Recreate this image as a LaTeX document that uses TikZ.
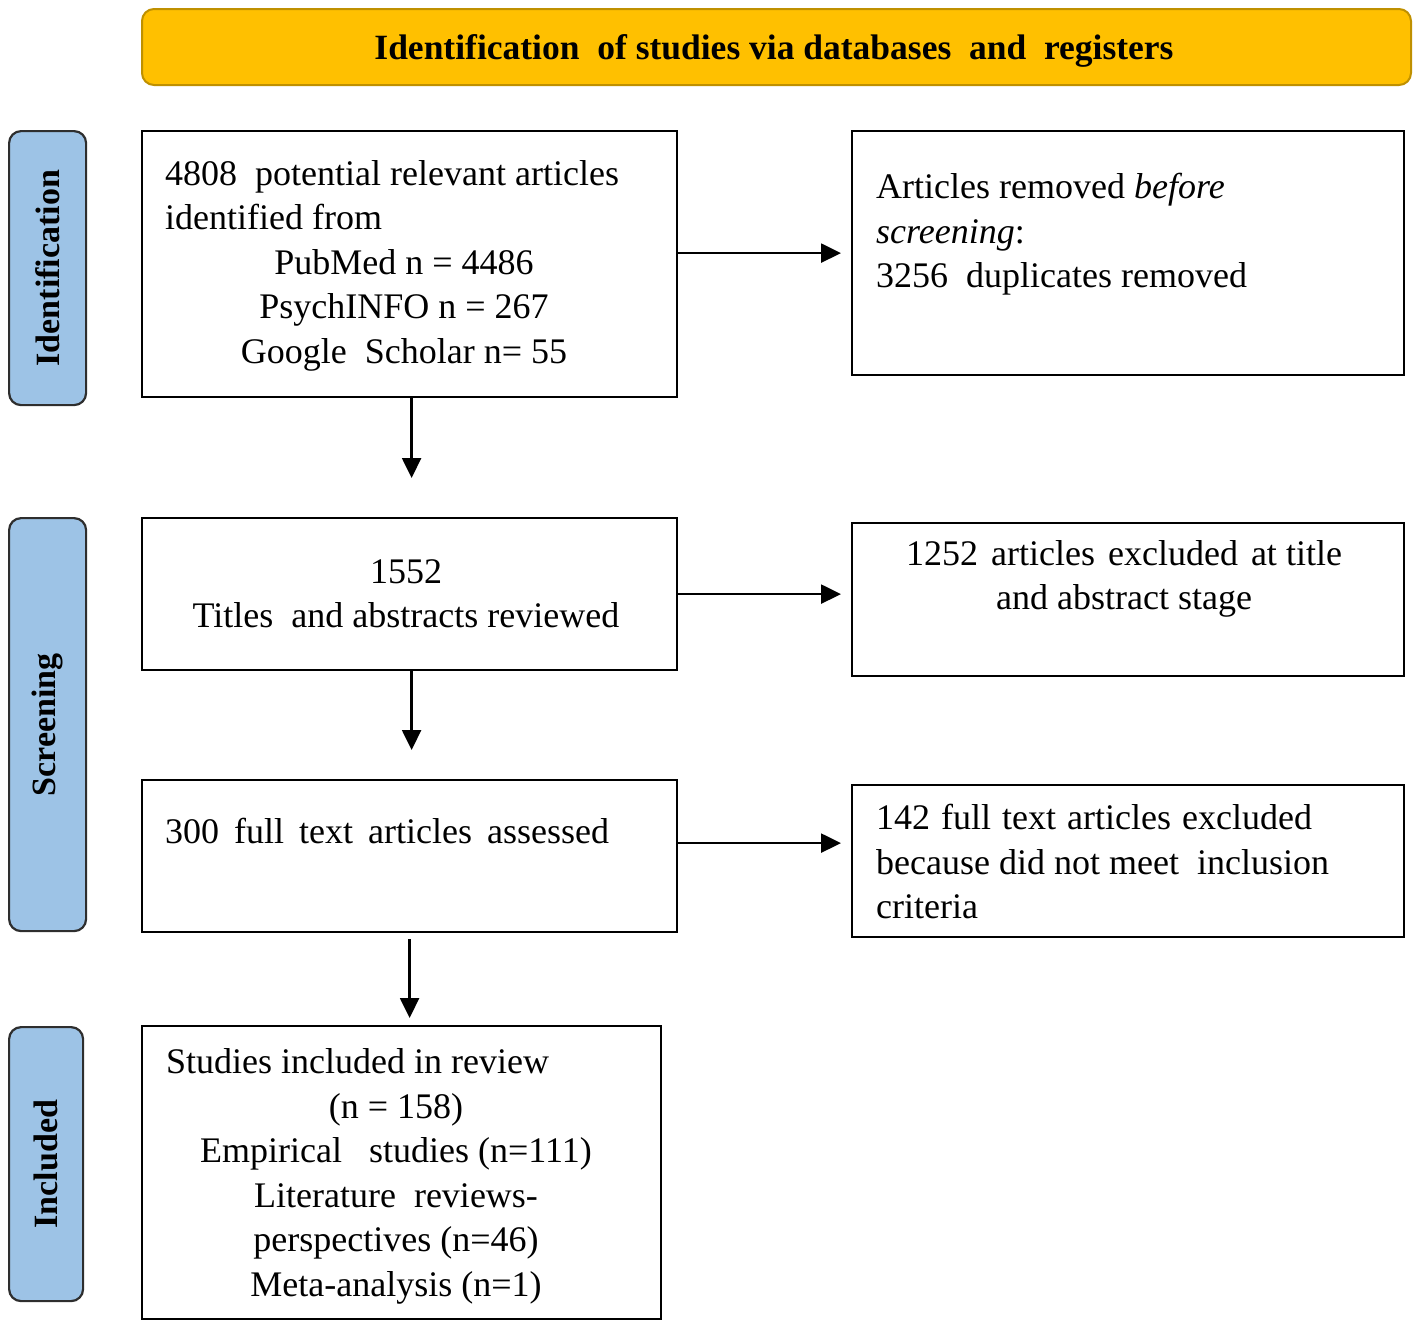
\documentclass[tikz,border=0pt]{standalone}
\usepackage{fontspec}
\setmainfont{Liberation Serif}
\usetikzlibrary{arrows.meta}
\definecolor{hdrfill}{HTML}{FFC000}
\definecolor{hdrline}{HTML}{BF9000}
\definecolor{sidefill}{HTML}{9DC3E6}
\definecolor{sideline}{HTML}{2E2E2E}
\newcommand\wsp[1]{\hspace{#1pt}}
\tikzset{
  box/.style={draw=black, line width=2.2pt, fill=white, inner sep=0pt, anchor=north west},
  side/.style={draw=sideline, fill=sidefill, rounded corners=12pt, line width=2.2pt, inner sep=0pt, anchor=north west},
  sidetxt/.style={inner sep=0pt, rotate=90, font=\fontsize{34}{40}\selectfont\bfseries},
  txt/.style={inner sep=0pt, font=\fontsize{36}{44.5}\selectfont},
  arr/.style={line width=2.5pt, -{Triangle[length=20pt,width=19pt]}}
}
\begin{document}
\begin{tikzpicture}[x=1pt,y=-1pt]
\useasboundingbox (0,0) rectangle (1418,1325);
% header
\node[draw=hdrline, fill=hdrfill, rounded corners=12pt, line width=2pt, inner sep=0pt,
      minimum width=1269pt, minimum height=76pt, anchor=north west] (hdr) at (141,8) {};
\node[inner sep=0pt, anchor=base, font=\fontsize{35.5}{40}\selectfont\bfseries] (hdrt) at (774,59)
  {Identification\ \ of studies via databases\ \ and\ \ registers};
% side labels
\node[side, minimum width=77pt, minimum height=274pt] (s1) at (8,130) {};
\node[sidetxt] (s1t) at (s1.center) {Identification};
\node[side, minimum width=77pt, minimum height=413pt] (s2) at (8,517) {};
\node[sidetxt] (s2t) at (s2.center) {Screening};
\node[side, minimum width=74pt, minimum height=274pt] (s3) at (8,1026) {};
\node[sidetxt] (s3t) at (s3.center) {Included};
% boxes
\node[box, minimum width=535pt, minimum height=266pt] (b1) at (141,130) {};
\node[box, minimum width=552pt, minimum height=244pt] (b2) at (851,130) {};
\node[box, minimum width=535pt, minimum height=152pt] (b3) at (141,517) {};
\node[box, minimum width=552pt, minimum height=153pt] (b4) at (851,522) {};
\node[box, minimum width=535pt, minimum height=152pt] (b5) at (141,779) {};
\node[box, minimum width=552pt, minimum height=152pt] (b6) at (851,784) {};
\node[box, minimum width=519pt, minimum height=293pt] (b7) at (141,1025) {};
% texts
\node[txt, anchor=north west, align=left] (t1a) at (165,160)
  {4808\ \ potential relevant articles\\identified from};
\node[txt, anchor=north, align=center] (t1b) at (404,249)
  {PubMed n = 4486\\PsychINFO n = 267\\Google\ \ Scholar n= 55};
\node[txt, anchor=north west, align=left] (t2) at (876,173)
  {Articles removed \textit{before}\\\textit{screening}:\\3256\ \ duplicates removed};
\node[txt, anchor=north, align=center] (t3) at (406,559)
  {1552\\Titles\ \ and abstracts reviewed};
\node[txt, anchor=north, align=center] (t4) at (1124,540)
  {1252\wsp{13}articles\wsp{13}excluded\wsp{13}at title\\and abstract stage};
\node[txt, anchor=north west, align=left] (t5) at (165,818)
  {300\wsp{15}full\wsp{15}text\wsp{15}articles\wsp{15}assessed};
\node[txt, anchor=north west, align=left] (t6) at (876,804)
  {142\wsp{11}full\wsp{11}text\wsp{11}articles\wsp{11}excluded\\because did not meet\ \ inclusion\\criteria};
\node[txt, anchor=north west, align=left] (t7a) at (166,1048)
  {Studies included in review};
\node[txt, anchor=north, align=center] (t7b) at (396,1093)
  {(n = 158)\\Empirical\ \ \ studies (n=111)\\Literature\ \ reviews-\\perspectives (n=46)\\Meta-analysis (n=1)};
% connectors
\draw[arr, shorten >=10pt] (b1.east |- b2.west) -- (b2.west);
\draw[arr, shorten >=10pt] (b3.east) -- (b4.west |- b3.east);
\draw[arr, shorten >=10pt] ([yshift=13pt]b5.east) -- ([yshift=13pt]b5.east -| b6.west);
\draw[arr, shorten >=39pt] ([xshift=2pt]b1.south) -- ([xshift=2pt]b1.south |- b3.north);
\draw[arr, shorten >=29pt] ([xshift=2pt]b3.south) -- ([xshift=2pt]b3.south |- b5.north);
\draw[arr, shorten <=6pt, shorten >=7pt] (b5.south) -- (b5.south |- b7.north);
\end{tikzpicture}
\end{document}
